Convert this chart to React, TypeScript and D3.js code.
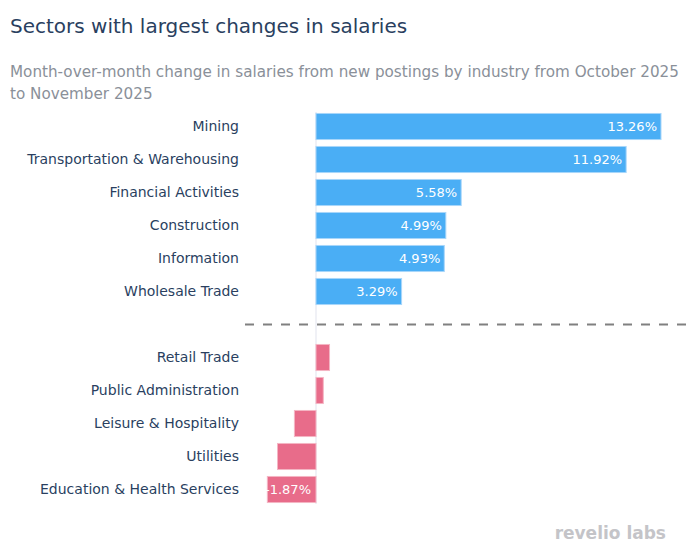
import { useEffect, useRef } from "react";
import * as d3 from "d3";

// top group: largest increases
const topSectors = [
  "Mining",
  "Transportation & Warehousing",
  "Financial Activities",
  "Construction",
  "Information",
  "Wholesale Trade",
];
const topValues = [13.26, 11.92, 5.58, 4.99, 4.93, 3.29];

// bottom group: smallest changes
const bottomSectors = [
  "Retail Trade",
  "Public Administration",
  "Leisure & Hospitality",
  "Utilities",
  "Education & Health Services",
];
const bottomValues = [0.52, 0.28, -0.83, -1.48, -1.87];

const GAP = "__gap__";
const FONT = "'DejaVu Sans', Verdana, sans-serif";

const App = () => {
  const svgRef = useRef<SVGSVGElement>(null);

  useEffect(() => {
    if (!svgRef.current) return;
    const width = 687;
    const height = 550;

    d3.select(svgRef.current).selectAll("*").remove();
    const svg = d3.select(svgRef.current)
      .attr("width", width)
      .attr("height", height)
      .style("font-family", FONT);

    const rows = [
      ...topSectors.map((name, i) => ({ name, value: topValues[i], group: "top" })),
      ...bottomSectors.map((name, i) => ({ name, value: bottomValues[i], group: "bottom" })),
    ];

    // zero sits at 316, max bar reaches 661
    const xScale = d3.scaleLinear().domain([0, 13.26]).range([316, 661]);

    const yScale = d3.scaleBand()
      .domain([...topSectors, GAP, ...bottomSectors])
      .range([110, 506])
      .paddingInner(0.21)
      .paddingOuter(0.105);

    // Title and subtitle
    svg.append("text")
      .attr("x", 10).attr("y", 33)
      .attr("fill", "#2a3f5f")
      .attr("font-size", 20)
      .text("Sectors with largest changes in salaries");

    const sub = svg.append("text")
      .attr("fill", "#8a9099")
      .attr("font-size", 15.2);
    sub.append("tspan").attr("x", 10).attr("y", 77)
      .text("Month-over-month change in salaries from new postings by industry from October 2025");
    sub.append("tspan").attr("x", 10).attr("y", 99)
      .text("to November 2025");

    // zero line
    svg.append("line")
      .attr("x1", xScale(0)).attr("x2", xScale(0))
      .attr("y1", 112).attr("y2", 504)
      .attr("stroke", "#ebedf3")
      .attr("stroke-width", 1.5);

    // bars
    const bars = svg.selectAll(".bar")
      .data(rows)
      .enter()
      .append("g")
      .attr("class", "bar");

    bars.append("rect")
      .attr("x", d => Math.min(xScale(0), xScale(d.value)))
      .attr("y", d => yScale(d.name) || 0)
      .attr("width", d => Math.abs(xScale(d.value) - xScale(0)))
      .attr("height", yScale.bandwidth())
      .attr("fill", d => (d.group === "top" ? "#4aaef5" : "#e86c8a"))
      .attr("stroke", d => (d.group === "top" ? "#a8d6fa" : "#f4b5c4"))
      .attr("stroke-width", 1);

    // value labels (only where they fit)
    bars.filter(d => Math.abs(xScale(d.value) - xScale(0)) > 45)
      .append("text")
      .attr("x", d => (d.value >= 0 ? xScale(d.value) - 4 : xScale(0) - 5))
      .attr("y", d => (yScale(d.name) || 0) + yScale.bandwidth() / 2)
      .attr("dy", "0.36em")
      .attr("text-anchor", "end")
      .attr("fill", "white")
      .attr("font-size", 13)
      .text(d => `${d.value.toFixed(2)}%`);

    // category labels
    svg.selectAll(".cat")
      .data(rows)
      .enter()
      .append("text")
      .attr("class", "cat")
      .attr("x", 239)
      .attr("y", d => (yScale(d.name) || 0) + yScale.bandwidth() / 2)
      .attr("dy", "0.3em")
      .attr("text-anchor", "end")
      .attr("fill", "#2a3f5f")
      .attr("font-size", 14)
      .text(d => d.name);

    // divider between groups
    const gapY = (yScale(GAP) || 0) + yScale.bandwidth() / 2;
    svg.append("line")
      .attr("x1", 245).attr("x2", 687)
      .attr("y1", gapY).attr("y2", gapY)
      .attr("stroke", "#808080")
      .attr("stroke-width", 2)
      .attr("stroke-dasharray", "9,9");

    // logo
    svg.append("text")
      .attr("x", 666).attr("y", 539)
      .attr("text-anchor", "end")
      .attr("fill", "#c4c4c8")
      .attr("font-size", 17)
      .attr("font-weight", 600)
      .text("revelio labs");
  }, []);

  return <svg ref={svgRef} style={{ display: "block", position: "absolute", left: 0, top: 0 }} />;
};

export default App;
